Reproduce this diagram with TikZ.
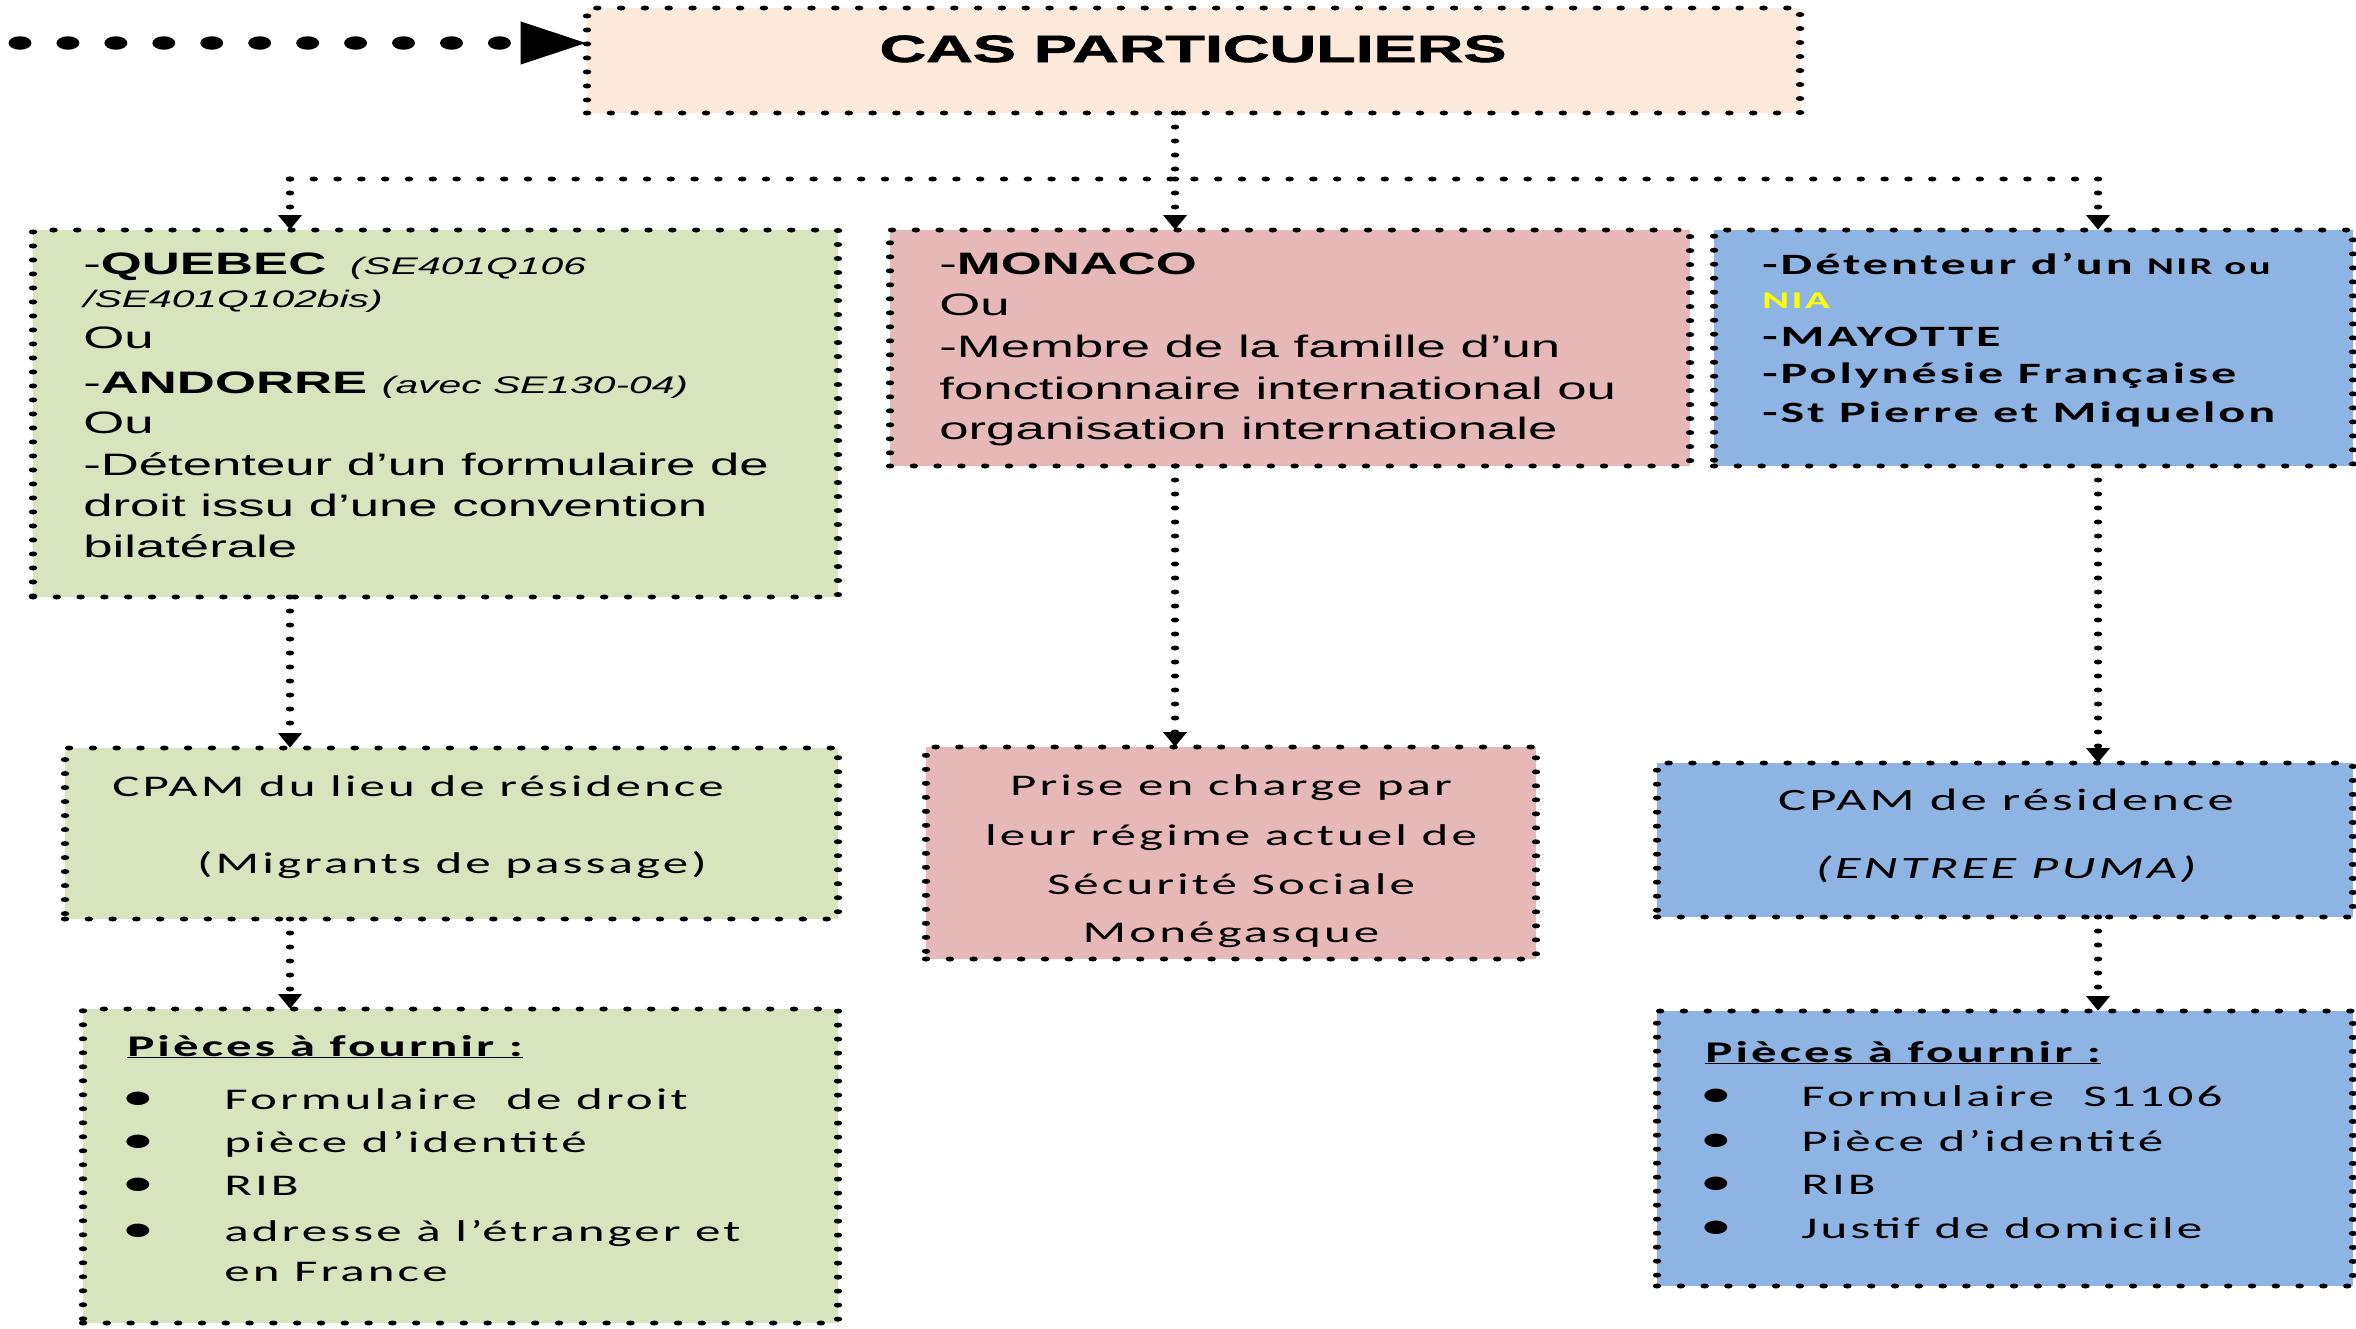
\documentclass[tikz,border=0pt]{standalone}
\usepackage{fontspec}
\setmainfont{Liberation Sans}
\newfontfamily\calfont[LetterSpace=6]{Carlito}
\newfontfamily\titlefont{Liberation Sans}[BoldFeatures={FakeBold=1.5}]
\usetikzlibrary{arrows.meta}
\definecolor{peach}{HTML}{FCE9DA}
\definecolor{greenbox}{HTML}{D7E4BD}
\definecolor{pinkbox}{HTML}{E6B9B8}
\definecolor{bluebox}{HTML}{8EB4E3}
\definecolor{niayellow}{HTML}{FFFF00}
\newcommand\smit{\fontsize{24}{28}\selectfont\itshape}
\newcommand\mkbox[6]{\node[dotbox, fill=#6, minimum width={(#4-#2)/1.7}, minimum height={#5-#3}] (#1) at ({(#2+#4)/2},{(#3+#5)/2}) {};}
\tikzset{
  dotbox/.style={draw=black, line width=5pt, dash pattern=on 0pt off 14pt, line cap=round, inner sep=0pt, outer sep=0pt, rectangle},
  conn/.style={draw=black, line width=5pt, dash pattern=on 0pt off 14pt, line cap=round},
  arr/.style={-{Triangle[width=13pt,length=15pt]}},
  bigdots/.style={draw=black, line width=13.5pt, dash pattern=on 0pt off 28.2pt, line cap=round, -{Triangle[width=40pt,length=39pt]}},
  titletxt/.style={font=\titlefont\fontsize{38}{44}\selectfont\bfseries, anchor=base, inner sep=0pt},
  ta/.style={font=\fontsize{31}{37}\selectfont, anchor=base west, inner sep=0pt},
  tc/.style={font=\calfont\bfseries\fontsize{29.5}{35}\selectfont, anchor=base west, inner sep=0pt},
  tl/.style={font=\calfont\fontsize{30}{36}\selectfont, anchor=base west, inner sep=0pt},
  tlc/.style={font=\calfont\fontsize{30}{36}\selectfont, anchor=base, inner sep=0pt},
  tlg/.style={font=\calfont\fontsize{31}{36}\selectfont, anchor=base, inner sep=0pt},
  bul/.style={font=\calfont\fontsize{38}{40}\selectfont, anchor=base, inner sep=0pt},
}
\begin{document}
\begin{tikzpicture}
\fill[white] (0pt,0pt) rectangle (2356pt,-1328pt);
\useasboundingbox (0pt,0pt) rectangle (2356pt,-1328pt);
\begin{scope}[x=0.588235pt, y=-1pt, transform canvas={xscale=1.7}]
  % boxes
  \mkbox{top}{587}{8}{1800}{113}{peach}
  \mkbox{A}{33}{230}{838}{597}{greenbox}
  \mkbox{B}{890}{230}{1690}{466}{pinkbox}
  \mkbox{C}{1714}{230}{2353}{466}{bluebox}
  \mkbox{D}{65}{748}{838}{919}{greenbox}
  \mkbox{E}{83}{1009}{838}{1323}{greenbox}
  \mkbox{F}{926}{747}{1536}{959}{pinkbox}
  \mkbox{G}{1657}{763}{2353}{917}{bluebox}
  \mkbox{H}{1657}{1011}{2353}{1286}{bluebox}

  % title
  \node[titletxt] (t1) at (1193,62) {CAS PARTICULIERS};

  % box A
  \node[ta] (a1) at (83,274) {-\textbf{QUEBEC}\hspace{14pt}{\smit(SE401Q106}};
  \node[ta] (a2) at (83,307) {\smit/SE401Q102bis)};
  \node[ta] (a3) at (83,348) {Ou};
  \node[ta] (a4) at (83,393) {-\textbf{ANDORRE} {\smit(avec SE130-04)}};
  \node[ta] (a5) at (83,433) {Ou};
  \node[ta] (a6) at (83,475) {-Détenteur d’un formulaire de};
  \node[ta] (a7) at (83,516) {droit issu d’une convention};
  \node[ta] (a8) at (83,557) {bilatérale};

  % box B
  \node[ta] (b1) at (939,274) {-\textbf{MONACO}};
  \node[ta] (b2) at (939,315) {Ou};
  \node[ta] (b3) at (939,357) {-Membre de la famille d’un};
  \node[ta] (b4) at (939,399) {fonctionnaire international ou};
  \node[ta] (b5) at (939,439) {organisation internationale};

  % box C
  \node[tc] (c1) at (1762,274) {-Détenteur d’un {\fontsize{24}{28}\selectfont NIR ou}};
  \node[tc] (c2) at (1762,308) {\fontsize{24}{28}\selectfont\color{niayellow}NIA};
  \node[tc] (c3) at (1762,346) {-MAYOTTE};
  \node[tc] (c4) at (1762,383) {-Polynésie Française};
  \node[tc] (c5) at (1762,422) {-St Pierre et Miquelon};

  % box D
  \node[tl] (d1) at (112,796) {CPAM\ du lieu\ de résidence};
  \node[tlc] (d2) at (452,873) {(Migrants de passage)};

  % box E
  \node[tl] (e0) at (127,1056) {\bfseries\underline{Pièces à fournir :}};
  \node[bul] (eb1) at (138,1109) {•};
  \node[bul] (eb2) at (138,1152) {•};
  \node[bul] (eb3) at (138,1195) {•};
  \node[bul] (eb4) at (138,1241) {•};
  \node[tl] (e1) at (224,1109) {Formulaire\ \ de droit};
  \node[tl] (e2) at (224,1152) {pièce d’identité};
  \node[tl] (e3) at (224,1195) {RIB};
  \node[tl] (e4) at (224,1241) {adresse à l’étranger\ et};
  \node[tl] (e5) at (224,1281) {en France};

  % box F
  \node[tlc] (f1) at (1231,795) {Prise en charge par};
  \node[tlc] (f2) at (1231,845) {leur régime actuel de};
  \node[tlc] (f3) at (1231,894) {Sécurité Sociale};
  \node[tlc] (f4) at (1231,942) {Monégasque};

  % box G
  \node[tlg] (g1) at (2006,810) {CPAM de résidence};
  \node[tlg] (g2) at (2006,878) {\itshape (ENTREE PUMA)};

  % box H
  \node[tl] (h0) at (1705,1062) {\bfseries\underline{Pièces à fournir :}};
  \node[bul] (hb1) at (1716,1106) {•};
  \node[bul] (hb2) at (1716,1151) {•};
  \node[bul] (hb3) at (1716,1194) {•};
  \node[bul] (hb4) at (1716,1238) {•};
  \node[tl] (h1) at (1801,1106) {Formulaire\ \ S1106};
  \node[tl] (h2) at (1801,1151) {Pièce d’identité};
  \node[tl] (h3) at (1801,1194) {RIB};
  \node[tl] (h4) at (1801,1238) {Justif de domicile};

  % connectors
  \coordinate (st) at (20,43);
  \coordinate (sL) at (290,179);
  \coordinate (sM) at (1175,179);
  \coordinate (sR) at (2098,179);
  \draw[bigdots] (st) -- (st -| top.west);
  \draw[conn] (sM |- top.south) -- (sM);
  \draw[conn] (sL) -- (sR);
  \draw[conn,arr] (sL) -- (sL |- A.north);
  \draw[conn,arr] (sM) -- (sM |- B.north);
  \draw[conn,arr] (sR) -- (sR |- C.north);
  \draw[conn,arr] (sL |- A.south) -- (sL |- D.north);
  \draw[conn,arr] (sL |- D.south) -- (sL |- E.north);
  \draw[conn,arr] (sM |- B.south) -- (sM |- F.north);
  \draw[conn,arr] (sR |- C.south) -- (sR |- G.north);
  \draw[conn,arr] (sR |- G.south) -- (sR |- H.north);
\end{scope}
\end{tikzpicture}
\end{document}
